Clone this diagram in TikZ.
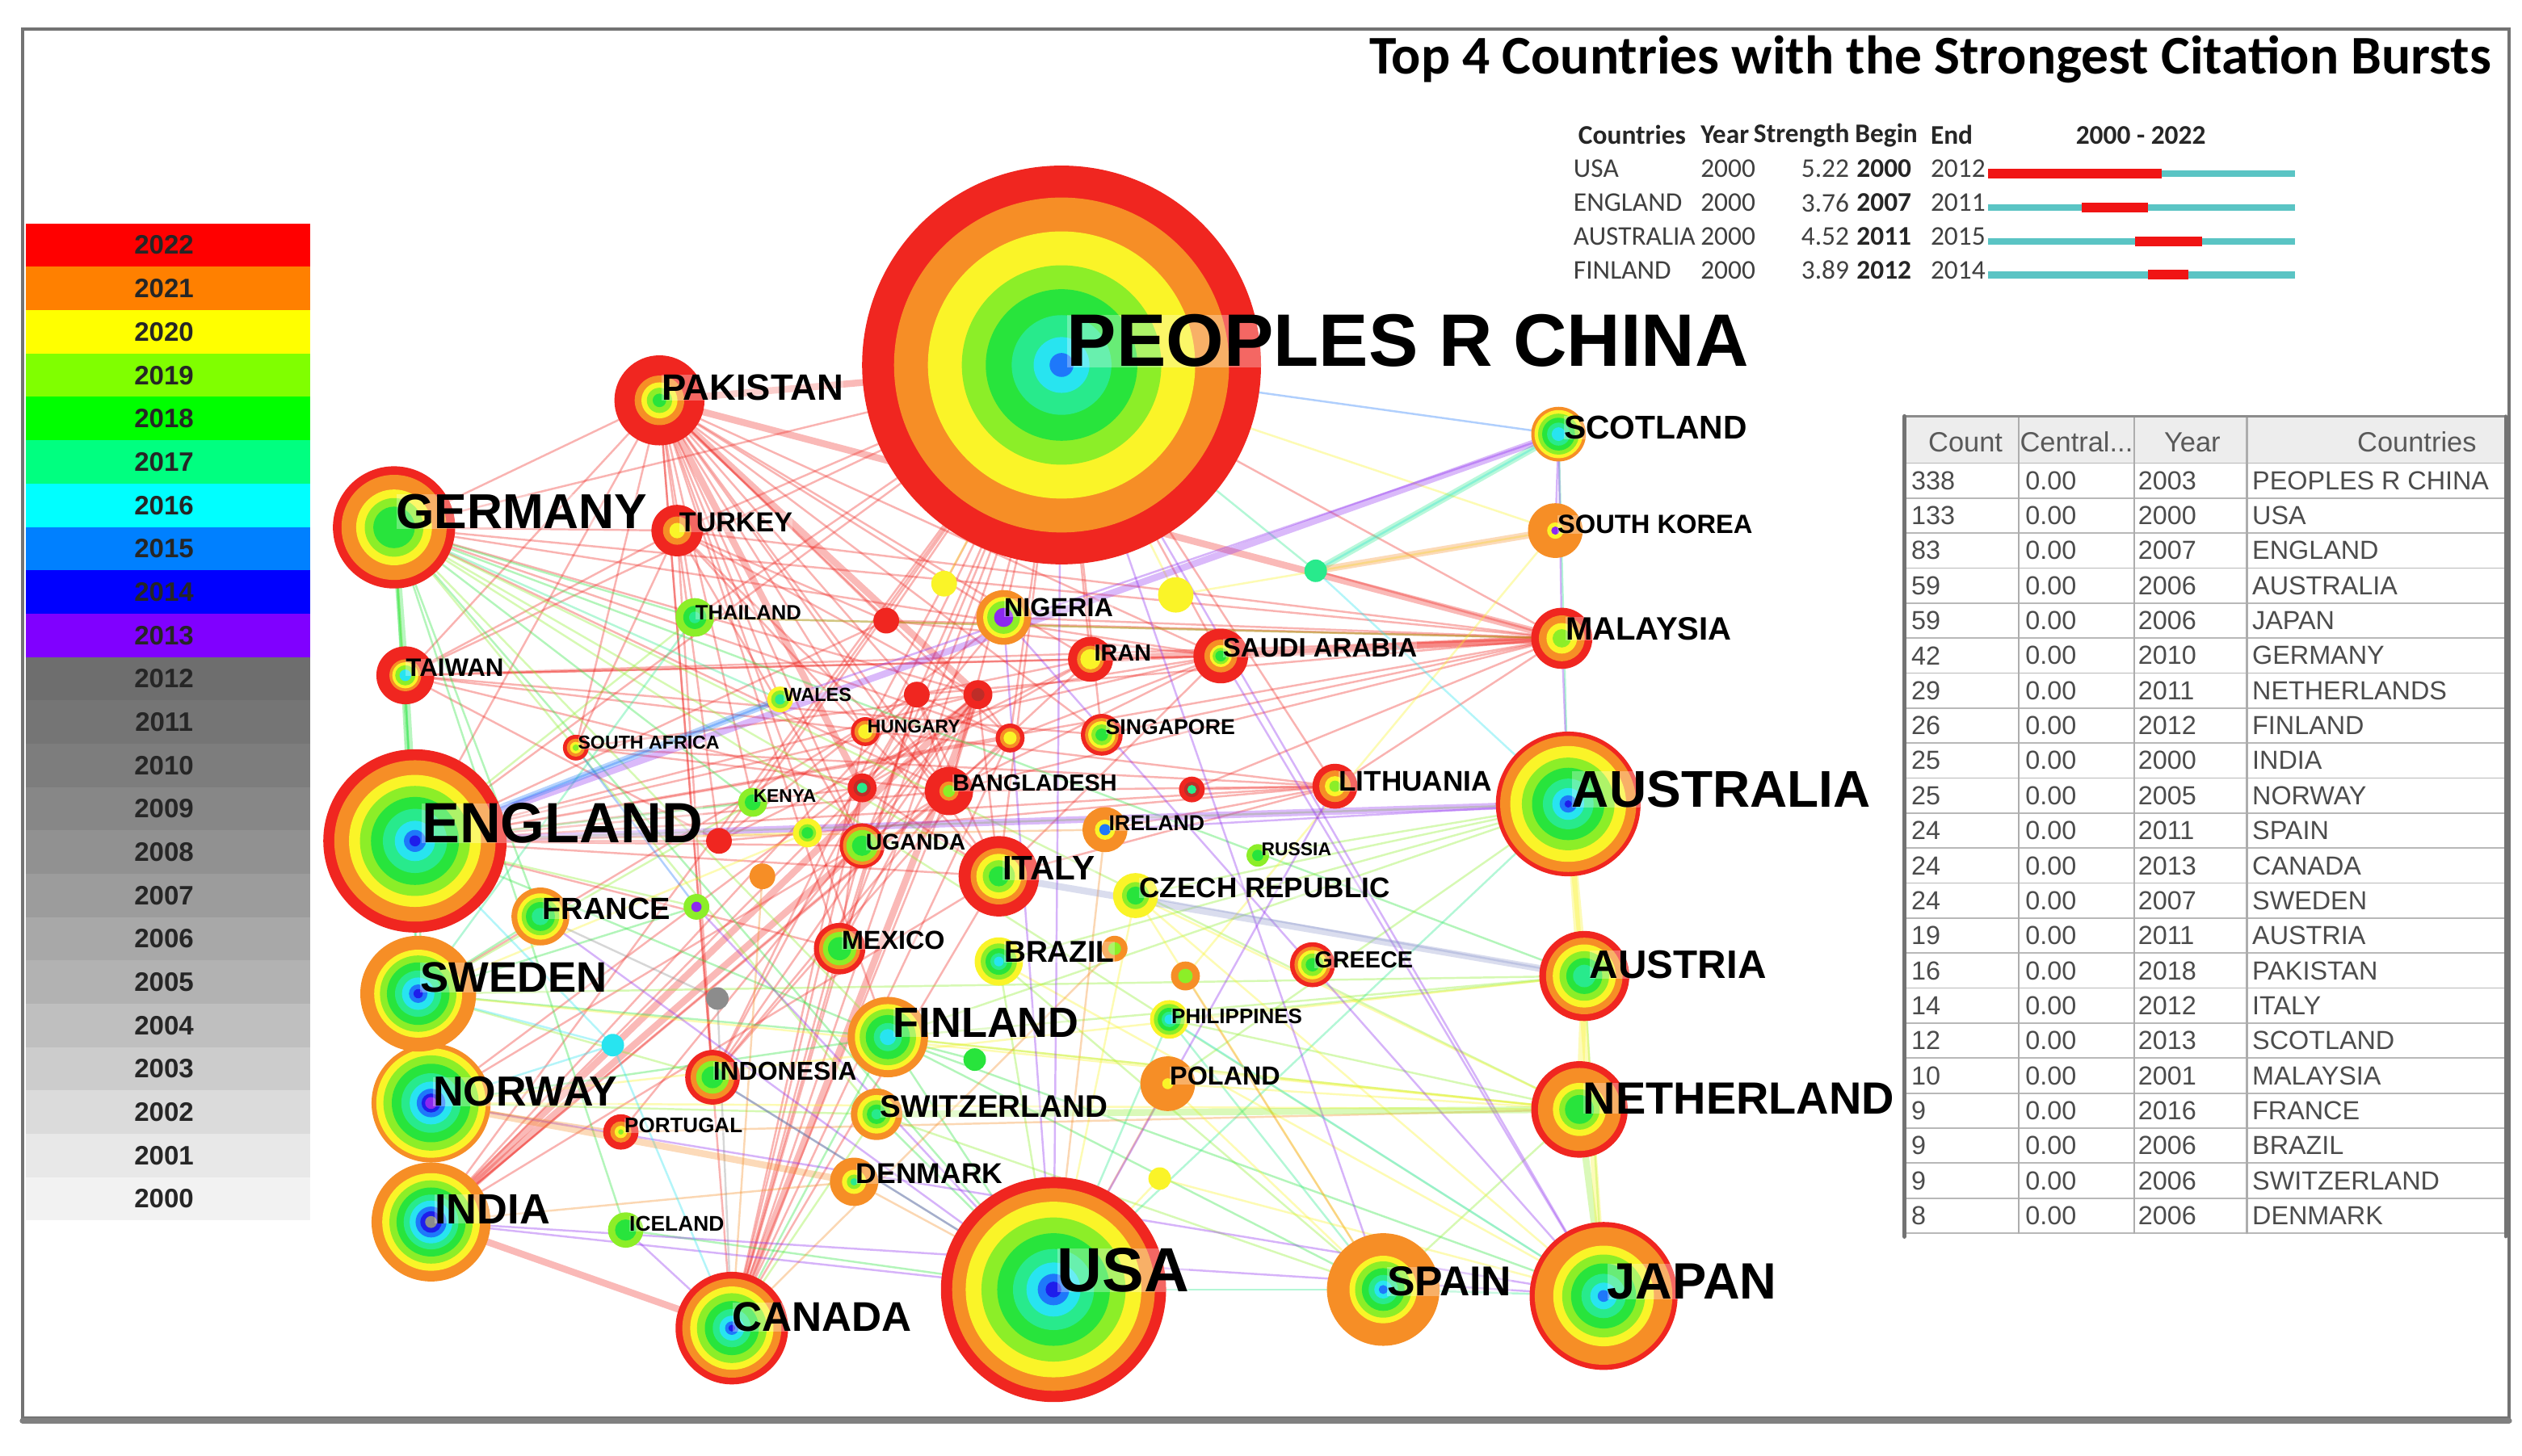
\documentclass[tikz,border=0pt]{standalone}
\usepackage{fontspec}
\setmainfont{Liberation Sans}
\newfontfamily\calib{Carlito}
\definecolor{cR}{RGB}{240,38,32}
\definecolor{cO}{RGB}{246,142,38}
\definecolor{cY}{RGB}{250,244,40}
\definecolor{cLG}{RGB}{140,238,40}
\definecolor{cG}{RGB}{40,228,60}
\definecolor{cSG}{RGB}{40,234,140}
\definecolor{cC}{RGB}{40,228,240}
\definecolor{cA}{RGB}{30,120,250}
\definecolor{cB}{RGB}{30,30,235}
\definecolor{cV}{RGB}{140,40,240}
\definecolor{cGr}{RGB}{140,140,140}
\definecolor{cDR}{RGB}{190,45,40}
\definecolor{cBG}{RGB}{140,150,205}
\definecolor{Lc22}{RGB}{255,0,0}
\definecolor{Lc21}{RGB}{255,128,0}
\definecolor{Lc20}{RGB}{255,255,0}
\definecolor{Lc19}{RGB}{128,255,0}
\definecolor{Lc18}{RGB}{0,255,0}
\definecolor{Lc17}{RGB}{0,255,128}
\definecolor{Lc16}{RGB}{0,255,255}
\definecolor{Lc15}{RGB}{0,128,255}
\definecolor{Lc14}{RGB}{0,0,255}
\definecolor{Lc13}{RGB}{128,0,255}
\definecolor{barteal}{RGB}{90,196,196}
\definecolor{barred}{RGB}{240,20,20}
\newcommand\rings[3]{\foreach \cc/\ff in {#3}{\fill[\cc] (#1) circle[radius={#2*\ff*0.01991cm}];}}
\begin{document}
\begin{tikzpicture}[x=0.01991cm,y=-0.01991cm,line cap=round,
 lnk/.style={draw=#1,line width=0.7pt,draw opacity=0.35},
 thk/.style={line width=2.4pt,draw opacity=0.32},
 lbl/.style={anchor=west,inner sep=0pt,font=\bfseries\fontsize{#1}{#1}\selectfont,fill=white,fill opacity=0.3,text opacity=1},
 bt/.style={inner sep=0pt,font=\calib\fontsize{9.5}{11}\selectfont,text=black!75},
 bth/.style={inner sep=0pt,font=\calib\bfseries\fontsize{9.5}{11}\selectfont,text=black!85},
 td/.style={inner sep=0pt,anchor=west,font=\fontsize{9.2}{10}\selectfont,text=black!70},
 th/.style={inner sep=0pt,font=\fontsize{9.8}{11}\selectfont,text=black!65},
 lg/.style={inner sep=0pt,font=\bfseries\fontsize{9.4}{10}\selectfont,text=black!85}]
\useasboundingbox (0,0) rectangle (1568,905.5);
\fill[white] (0,0) rectangle (1568,905.5);
% ---------- coordinates of nodes ----------
\coordinate (china) at (660,227);
\coordinate (usa) at (655,802);
\coordinate (england) at (258,523);
\coordinate (australia) at (975,500);
\coordinate (japan) at (997,806);
\coordinate (spain) at (860,802);
\coordinate (canada) at (455,826);
\coordinate (india) at (268,760);
\coordinate (norway) at (268,686);
\coordinate (sweden) at (260,618);
\coordinate (germany) at (245,328);
\coordinate (pakistan) at (410,249);
\coordinate (turkey) at (421,330);
\coordinate (taiwan) at (252,420);
\coordinate (scotland) at (969,270);
\coordinate (skorea) at (967,330);
\coordinate (malaysia) at (971,397);
\coordinate (austria) at (985,607);
\coordinate (netherland) at (982,690);
\coordinate (finland) at (552,645);
\coordinate (italy) at (621,545);
\coordinate (switzerland) at (545,693);
\coordinate (denmark) at (531,735);
\coordinate (indonesia) at (443,670);
\coordinate (portugal) at (386,704);
\coordinate (iceland) at (389,765);
\coordinate (france) at (336,570);
\coordinate (mexico) at (522,590);
\coordinate (brazil) at (621,598);
\coordinate (poland) at (726,674);
\coordinate (philippines) at (727,634);
\coordinate (czech) at (706,557);
\coordinate (greece) at (816,600);
\coordinate (russia) at (782,532);
\coordinate (ireland) at (687,516);
\coordinate (lithuania) at (830,489);
\coordinate (uganda) at (536,526);
\coordinate (bangladesh) at (590,492);
\coordinate (kenya) at (468,499);
\coordinate (safrica) at (358,465);
\coordinate (hungary) at (538,455);
\coordinate (wales) at (485,435);
\coordinate (singapore) at (685,457);
\coordinate (saudi) at (759,408);
\coordinate (iran) at (678,410);
\coordinate (nigeria) at (624,384);
\coordinate (thailand) at (432,384);
\coordinate (u1) at (587,363);
\coordinate (u2) at (731,370);
\coordinate (u3) at (551,386);
\coordinate (u4) at (570,432);
\coordinate (u5) at (608,432);
\coordinate (u6) at (628,459);
\coordinate (u7) at (536,490);
\coordinate (u8) at (741,491);
\coordinate (u9) at (447,523);
\coordinate (u10) at (502,518);
\coordinate (u11) at (474,545);
\coordinate (u12) at (433,564);
\coordinate (u13) at (446,621);
\coordinate (u14) at (381,650);
\coordinate (u15) at (606,659);
\coordinate (u16) at (737,607);
\coordinate (u17) at (721,733);
\coordinate (u18) at (818,355);
\coordinate (u19) at (693,590);
% ---------- connectors ----------
\foreach \a/\b in {pakistan/germany,pakistan/taiwan,pakistan/turkey,pakistan/thailand,pakistan/safrica,pakistan/hungary,pakistan/bangladesh,pakistan/uganda,pakistan/kenya,pakistan/iran,pakistan/saudi,pakistan/nigeria,pakistan/italy,pakistan/mexico,pakistan/u4,pakistan/u6,pakistan/england,pakistan/indonesia,pakistan/canada,pakistan/u3,pakistan/singapore,pakistan/finland,pakistan/wales,
turkey/germany,turkey/taiwan,turkey/u3,turkey/u9,turkey/safrica,turkey/bangladesh,turkey/malaysia,turkey/italy,turkey/indonesia,turkey/uganda,turkey/u5,
malaysia/nigeria,malaysia/thailand,malaysia/taiwan,malaysia/u3,malaysia/u4,malaysia/singapore,malaysia/bangladesh,malaysia/u8,malaysia/lithuania,malaysia/england,malaysia/germany,malaysia/u18,
china/u3,china/u4,china/u6,china/bangladesh,china/iran,china/saudi,china/nigeria,china/italy,china/mexico,china/uganda,china/hungary,china/india,china/canada,china/taiwan,china/england,china/germany,china/thailand,china/kenya,china/u9,china/indonesia,china/singapore,china/lithuania,china/malaysia,china/turkey,
india/u4,india/bangladesh,india/u7,india/italy,india/u6,
canada/u6,canada/bangladesh,canada/mexico,canada/italy,canada/uganda,canada/u4,canada/hungary,canada/u7,
taiwan/u7,taiwan/saudi,taiwan/singapore,taiwan/lithuania,taiwan/u9,taiwan/iran,
lithuania/u8,lithuania/bangladesh,lithuania/u9,lithuania/italy,lithuania/ireland,
saudi/u3,saudi/u5,saudi/bangladesh,saudi/iran,saudi/england,saudi/u6,saudi/italy,
iran/u4,iran/u7,iran/u9,iran/bangladesh,
england/u9,england/u3,england/u5,england/bangladesh,england/lithuania,england/u6,england/u7,england/italy,england/mexico,england/uganda,
mexico/u4,mexico/u5,mexico/u7,italy/u4,italy/u5,italy/u7,
u4/u7,u4/bangladesh,u4/u6,u5/u7,u5/u6,u5/uganda,u5/bangladesh,
germany/u5,germany/bangladesh,germany/u6,germany/saudi,
indonesia/u4,indonesia/u5,indonesia/u6,indonesia/bangladesh,
safrica/bangladesh,safrica/u5,safrica/lithuania,nigeria/u7,nigeria/u9,
norway/u5,norway/bangladesh,sweden/u4,portugal/u5}
 \draw[lnk=cR] (\a) -- (\b);
\foreach \a/\b in {pakistan/china,india/canada,india/u5,malaysia/saudi,malaysia/iran,malaysia/pakistan,canada/u5,pakistan/u7,pakistan/u5,india/uganda}
 \draw[lnk=cR,thk] (\a) -- (\b);
\foreach \a/\b/\c in {germany/england/cLG,germany/sweden/cG,germany/thailand/cG,germany/wales/cSG,germany/kenya/cG,germany/finland/cLG,germany/iceland/cG,germany/switzerland/cLG,germany/usa/cG,germany/japan/cLG,germany/netherland/cLG,germany/austria/cG,germany/italy/cLG,germany/france/cG,germany/norway/cG,
england/finland/cG,england/thailand/cLG,japan/austria/cLG,thailand/malaysia/cLG,usa/finland/cG,usa/brazil/cLG,sweden/finland/cG,norway/switzerland/cLG,norway/finland/cG,sweden/austria/cLG,netherland/philippines/cLG,austria/philippines/cLG,austria/finland/cLG,australia/czech/cLG,australia/russia/cLG,australia/finland/cLG,australia/poland/cLG,spain/finland/cG,spain/switzerland/cLG,spain/brazil/cLG,japan/finland/cG,spain/philippines/cSG,canada/finland/cG,canada/switzerland/cLG,usa/switzerland/cG,usa/indonesia/cG,sweden/indonesia/cLG,sweden/thailand/cSG,england/kenya/cG,finland/u15/cG,iceland/usa/cG,netherland/finland/cLG,australia/brazil/cLG,australia/england/cLG,spain/netherland/cLG,france/sweden/cG,norway/india/cLG,taiwan/sweden/cSG,kenya/sweden/cLG,usa/philippines/cSG,australia/usa/cSG,japan/spain/cSG,usa/spain/cSG,u18/china/cSG,scotland/australia/cSG,england/u12/cLG,sweden/u12/cG,
skorea/u2/cY,skorea/china/cY,norway/portugal/cO,norway/netherland/cY,japan/czech/cY,spain/czech/cY,usa/czech/cY,china/u1/cY,china/u2/cY,england/u10/cY,sweden/u10/cY,portugal/netherland/cO,india/denmark/cO,denmark/usa/cO,poland/usa/cO,poland/netherland/cY,ireland/usa/cO,skorea/u16/cY,spain/poland/cY,netherland/czech/cY,england/ireland/cO,u11/canada/cO,japan/brazil/cY,u17/usa/cY,japan/u17/cY,norway/austria/cY,sweden/netherland/cY,finland/netherland/cY,u19/canada/cO,u16/spain/cO,
scotland/malaysia/cV,malaysia/australia/cV,scotland/skorea/cV,china/usa/cV,china/japan/cV,china/spain/cV,usa/nigeria/cV,india/usa/cV,norway/japan/cV,iceland/canada/cV,saudi/japan/cV,lithuania/usa/cV,india/japan/cV,nigeria/japan/cV,indonesia/usa/cV,u12/usa/cV,ireland/australia/cV,france/usa/cV,scotland/wales/cV,
czech/austria/cBG,wales/england/cA,safrica/u12/cA,england/u14/cC,sweden/u14/cC,u14/canada/cC,norway/u14/cC,scotland/china/cA,scotland/u18/cC,australia/u18/cC,japan/philippines/cC,u13/canada/cGr,u13/france/cGr}
 \draw[lnk=\c] (\a) -- (\b);
\foreach \a/\b/\c in {germany/taiwan/cG,taiwan/england/cG,japan/netherland/cLG,scotland/u18/cSG,skorea/u18/cO,japan/australia/cY,austria/australia/cY,netherland/austria/cY,norway/denmark/cO,netherland/switzerland/cLG,england/australia/cV,scotland/england/cV,italy/austria/cBG,wales/england/cA}
 \draw[lnk=\c,thk] (\a) -- (\b);
% ---------- nodes (rings) ----------
\rings{china}{124}{cR/1,cO/.84,cY/.67,cLG/.5,cG/.38,cSG/.25,cC/.14,cA/.06}
\rings{usa}{70}{cR/1,cO/.9,cY/.78,cLG/.64,cG/.5,cSG/.36,cC/.24,cA/.14,cB/.07}
\rings{england}{57}{cR/1,cO/.88,cY/.72,cLG/.6,cG/.48,cSG/.35,cC/.22,cA/.12,cB/.06}
\rings{australia}{45}{cR/1,cO/.94,cY/.8,cLG/.64,cG/.5,cSG/.35,cC/.22,cA/.12,cB/.05}
\rings{japan}{46}{cR/1,cO/.93,cY/.68,cLG/.56,cG/.44,cSG/.3,cC/.18,cA/.08}
\rings{spain}{35}{cO/1,cY/.6,cLG/.5,cG/.38,cSG/.26,cC/.16,cA/.08}
\rings{canada}{35}{cR/1,cO/.88,cY/.74,cLG/.62,cG/.48,cSG/.34,cC/.22,cA/.12,cB/.06}
\rings{india}{37}{cO/1,cY/.82,cLG/.7,cG/.58,cSG/.46,cC/.36,cA/.26,cB/.18,cGr/.1}
\rings{norway}{37}{cO/1,cY/.92,cLG/.8,cG/.66,cSG/.5,cC/.36,cA/.24,cB/.16,cV/.1}
\rings{sweden}{36}{cO/1,cY/.76,cLG/.66,cG/.54,cSG/.4,cC/.28,cA/.16,cB/.08}
\rings{germany}{38}{cR/1,cO/.86,cY/.62,cLG/.48,cG/.34}
\rings{pakistan}{28}{cR/1,cO/.55,cY/.4,cLG/.28,cG/.15}
\rings{turkey}{16}{cR/1,cO/.55,cY/.3}
\rings{taiwan}{18}{cR/1,cO/.55,cY/.45,cLG/.35,cC/.2}
\rings{scotland}{17}{cO/1,cY/.88,cLG/.75,cG/.6,cSG/.42,cC/.25}
\rings{skorea}{17}{cO/1,cY/.3,cV/.15}
\rings{malaysia}{19}{cR/1,cO/.75,cY/.5,cLG/.3}
\rings{austria}{28}{cR/1,cO/.85,cY/.7,cLG/.55,cG/.4,cSG/.25}
\rings{netherland}{30}{cR/1,cO/.86,cY/.55,cLG/.42,cG/.3}
\rings{finland}{25}{cO/1,cY/.82,cLG/.7,cG/.55,cSG/.35,cC/.2}
\rings{italy}{25}{cR/1,cO/.7,cY/.56,cLG/.4,cG/.25}
\rings{switzerland}{16}{cO/1,cY/.75,cLG/.55,cG/.38,cSG/.2}
\rings{denmark}{15}{cO/1,cY/.5,cLG/.3,cSG/.15}
\rings{indonesia}{17}{cR/1,cO/.8,cLG/.6,cG/.4}
\rings{portugal}{11}{cR/1,cO/.6,cY/.35,cLG/.15}
\rings{iceland}{11}{cLG/1,cG/.6}
\rings{france}{18}{cO/1,cY/.8,cLG/.65,cG/.5,cSG/.3}
\rings{mexico}{16}{cR/1,cO/.8,cLG/.65,cG/.45}
\rings{brazil}{15}{cY/1,cLG/.75,cG/.55,cSG/.35,cC/.2}
\rings{poland}{17}{cO/1,cY/.2}
\rings{philippines}{12}{cY/1,cLG/.8,cG/.6,cSG/.4,cC/.25}
\rings{czech}{14}{cY/1,cLG/.6,cG/.4}
\rings{greece}{14}{cR/1,cO/.8,cY/.65,cLG/.5,cG/.3}
\rings{russia}{7}{cLG/1,cG/.5}
\rings{ireland}{14}{cO/1,cY/.45,cA/.25}
\rings{lithuania}{14}{cR/1,cO/.7,cY/.45,cLG/.25}
\rings{uganda}{14}{cR/1,cO/.85,cLG/.7,cG/.45}
\rings{bangladesh}{15}{cR/1,cO/.4,cLG/.25}
\rings{kenya}{9}{cLG/1,cG/.55}
\rings{safrica}{8}{cR/1,cO/.7,cY/.45,cLG/.25}
\rings{hungary}{9}{cR/1,cO/.75,cY/.5}
\rings{wales}{8}{cY/1,cLG/.7,cSG/.4}
\rings{singapore}{13}{cR/1,cO/.8,cY/.65,cLG/.5,cG/.3}
\rings{saudi}{17}{cR/1,cO/.6,cY/.4,cLG/.3,cG/.2}
\rings{iran}{14}{cR/1,cO/.6,cY/.45}
\rings{nigeria}{17}{cO/1,cY/.75,cLG/.6,cV/.35}
\rings{thailand}{12}{cLG/1,cG/.6,cSG/.3}
\rings{u1}{8}{cY/1}
\rings{u2}{11}{cY/1}
\rings{u3}{8}{cR/1}
\rings{u4}{8}{cR/1}
\rings{u5}{9}{cR/1,cDR/.45}
\rings{u6}{9}{cR/1,cO/.7,cY/.45}
\rings{u7}{9}{cR/1,cDR/.6,cSG/.35}
\rings{u8}{8}{cR/1,cDR/.6,cSG/.35}
\rings{u9}{8}{cR/1}
\rings{u10}{9}{cY/1,cLG/.6,cG/.4}
\rings{u11}{8}{cO/1}
\rings{u12}{8}{cLG/1,cV/.4}
\rings{u13}{7}{cGr/1}
\rings{u14}{7}{cC/1}
\rings{u15}{7}{cG/1}
\rings{u16}{9}{cO/1,cLG/.5}
\rings{u17}{7}{cY/1}
\rings{u18}{7}{cSG/1}
\rings{u19}{8}{cO/1,cLG/.5}
% ---------- labels ----------
\node[lbl=26.2] (l-china) at (663,212) {PEOPLES R CHINA};
\node[lbl=12.9] (l-pakistan) at (411,241) {PAKISTAN};
\node[lbl=17.3] (l-germany) at (246,318) {GERMANY};
\node[lbl=9.7] (l-turkey) at (422,325) {TURKEY};
\node[lbl=7.3] (l-thailand) at (432,381) {THAILAND};
\node[lbl=9.2] (l-nigeria) at (624,378) {NIGERIA};
\node[lbl=8.2] (l-iran) at (680,406) {IRAN};
\node[lbl=9.4] (l-saudi) at (760,403) {SAUDI ARABIA};
\node[lbl=8.9] (l-taiwan) at (252,415) {TAIWAN};
\node[lbl=6.7] (l-wales) at (487,432) {WALES};
\node[lbl=6.5] (l-hungary) at (539,452) {HUNGARY};
\node[lbl=7.6] (l-singapore) at (687,452) {SINGAPORE};
\node[lbl=6.6] (l-safrica) at (359,462) {SOUTH AFRICA};
\node[lbl=8.2] (l-bangladesh) at (592,487) {BANGLADESH};
\node[lbl=6.5] (l-kenya) at (468,495) {KENYA};
\node[lbl=10] (l-lithuania) at (832,486) {LITHUANIA};
\node[lbl=20] (l-england) at (262,512) {ENGLAND};
\node[lbl=18.2] (l-australia) at (977,491) {AUSTRALIA};
\node[lbl=7.6] (l-ireland) at (689,512) {IRELAND};
\node[lbl=8] (l-uganda) at (538,524) {UGANDA};
\node[lbl=6.5] (l-russia) at (784,528) {RUSSIA};
\node[lbl=12] (l-italy) at (623,540) {ITALY};
\node[lbl=10] (l-czech) at (708,552) {CZECH REPUBLIC};
\node[lbl=10.8] (l-france) at (337,565) {FRANCE};
\node[lbl=9.2] (l-mexico) at (523,585) {MEXICO};
\node[lbl=10.6] (l-brazil) at (624,592) {BRAZIL};
\node[lbl=8.2] (l-greece) at (817,597) {GREECE};
\node[lbl=14] (l-austria) at (988,600) {AUSTRIA};
\node[lbl=15] (l-sweden) at (261,608) {SWEDEN};
\node[lbl=14.9] (l-finland) at (555,636) {FINLAND};
\node[lbl=7.4] (l-philippines) at (728,632) {PHILIPPINES};
\node[lbl=9.1] (l-indonesia) at (443,666) {INDONESIA};
\node[lbl=9.2] (l-poland) at (727,669) {POLAND};
\node[lbl=14.8] (l-norway) at (269,679) {NORWAY};
\node[lbl=15.9] (l-netherland) at (984,683) {NETHERLAND};
\node[lbl=11] (l-switzerland) at (547,688) {SWITZERLAND};
\node[lbl=7.4] (l-portugal) at (388,700) {PORTUGAL};
\node[lbl=10.1] (l-denmark) at (532,730) {DENMARK};
\node[lbl=14.9] (l-india) at (270,752) {INDIA};
\node[lbl=7.5] (l-iceland) at (391,761) {ICELAND};
\node[lbl=22] (l-usa) at (657,790) {USA};
\node[lbl=14.7] (l-spain) at (862,797) {SPAIN};
\node[lbl=18] (l-japan) at (999,797) {JAPAN};
\node[lbl=14.6] (l-canada) at (455,819) {CANADA};
\node[lbl=11.6] (l-scotland) at (972,266) {SCOTLAND};
\node[lbl=9.3] (l-skorea) at (968,326) {SOUTH KOREA};
\node[lbl=11.4] (l-malaysia) at (973,391) {MALAYSIA};
% ---------- legend ----------
\foreach \yr/\col [count=\i from 0] in {2022/Lc22,2021/Lc21,2020/Lc20,2019/Lc19,2018/Lc18,2017/Lc17,2016/Lc16,2015/Lc15,2014/Lc14,2013/Lc13,2012/black!57,2011/black!54,2010/black!51,2009/black!47,2008/black!43,2007/black!39,2006/black!34,2005/black!30,2004/black!25,2003/black!20,2002/black!14,2001/black!9,2000/black!5}{
 \fill[\col] (16,139+\i*26.96) rectangle (193,139+\i*26.96+26.96);
 \node[lg] (leg\yr) at (102,139+\i*26.96+13.48) {\yr};
}
% ---------- burst table ----------
\node[anchor=west,inner sep=0pt,font=\calib\bfseries\fontsize{19.2}{22}\selectfont] (title) at (851,37) {Top 4 Countries with the Strongest Citation Bursts};
\node[bth,anchor=west] (hc) at (981,84) {Countries};
\node[bth,anchor=west] (hy) at (1057,84) {Year};
\node[bth,anchor=west] (hs) at (1090,84) {Strength};
\node[bth,anchor=west] (hb) at (1153,84) {Begin};
\node[bth,anchor=west] (he) at (1200,84) {End};
\node[bth] (hr) at (1331,84) {2000 - 2022};
\foreach \n/\s/\b/\e [count=\i from 0] in {USA/5.22/2000/2012,ENGLAND/3.76/2007/2011,AUSTRALIA/4.52/2011/2015,FINLAND/3.89/2012/2014}{
 \node[bt,anchor=west] (bc\i) at (978,105+\i*21) {\n};
 \node[bt,anchor=west] (by\i) at (1057,105+\i*21) {2000};
 \node[bt,anchor=east] (bs\i) at (1150,105+\i*21) {\s};
 \node[bth,anchor=west] (bb\i) at (1154,105+\i*21) {\b};
 \node[bt,anchor=west] (be\i) at (1200,105+\i*21) {\e};
 \draw[barteal,line width=2.3pt,line cap=butt] (1236,108+\i*21) -- (1427,108+\i*21);
 \draw[barred,line width=3.4pt,line cap=butt] ({1236+(\b-2000)*8.304},108+\i*21) -- ({1236+(\e-1999)*8.304},108+\i*21);
}
% ---------- count table ----------
\fill[black!7] (1184,259) rectangle (1558,288);
\foreach \i in {0,...,22} \draw[black!28,line width=0.5pt] (1184,{288+\i*21.77}) -- (1558,{288+\i*21.77});
\foreach \xx in {1255,1327,1397} \draw[black!32,line width=0.6pt] (\xx,259) -- (\xx,767);
\draw[black!45,line width=0.8pt] (1184,259) -- (1558,259);
\draw[black!55,line width=1.6pt] (1184,259) -- (1184,769);
\draw[black!55,line width=1.3pt] (1558,259) -- (1558,769);
\node[th] (tcount) at (1222,275) {Count};
\node[th] (tcent) at (1291,275) {Central...};
\node[th] (tyear) at (1363,275) {Year};
\node[th,anchor=east] (tctry) at (1540,275) {Countries};
\foreach \c/\y/\n [count=\i, evaluate=\i as \yy using 288+(\i-0.5)*21.77] in {338/2003/PEOPLES R CHINA,133/2000/USA,83/2007/ENGLAND,59/2006/AUSTRALIA,59/2006/JAPAN,42/2010/GERMANY,29/2011/NETHERLANDS,26/2012/FINLAND,25/2000/INDIA,25/2005/NORWAY,24/2011/SPAIN,24/2013/CANADA,24/2007/SWEDEN,19/2011/AUSTRIA,16/2018/PAKISTAN,14/2012/ITALY,12/2013/SCOTLAND,10/2001/MALAYSIA,9/2016/FRANCE,9/2006/BRAZIL,9/2006/SWITZERLAND,8/2006/DENMARK}{
 \node[td] (tc\i) at (1188,\yy) {\c};
 \node[td] (tz\i) at (1259,\yy) {0.00};
 \node[td] (ty\i) at (1329,\yy) {\y};
 \node[td] (tn\i) at (1400,\yy) {\n};
}
% ---------- frame ----------
\draw[black!55,line width=1pt] (14,18) rectangle (1560,882);
\draw[black!50,line width=2pt] (14,883.5) -- (1560,883.5);
\end{tikzpicture}
\end{document}
